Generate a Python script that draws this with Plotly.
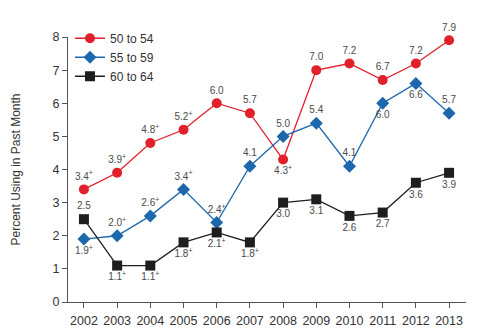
import plotly.graph_objects as go

years = [2002, 2003, 2004, 2005, 2006, 2007, 2008, 2009, 2010, 2011, 2012, 2013]

age_50_54 = [3.4, 3.9, 4.8, 5.2, 6.0, 5.7, 4.3, 7.0, 7.2, 6.7, 7.2, 7.9]
age_55_59 = [1.9, 2.0, 2.6, 3.4, 2.4, 4.1, 5.0, 5.4, 4.1, 6.0, 6.6, 5.7]
age_60_64 = [2.5, 1.1, 1.1, 1.8, 2.1, 1.8, 3.0, 3.1, 2.6, 2.7, 3.6, 3.9]

# "+" marks a difference from the 2013 estimate
sig_50_54 = [1, 1, 1, 1, 0, 0, 1, 0, 0, 0, 0, 0]
sig_55_59 = [1, 1, 1, 1, 1, 0, 0, 0, 0, 0, 0, 0]
sig_60_64 = [0, 1, 1, 1, 1, 1, 0, 0, 0, 0, 0, 0]

T, B = "top center", "bottom center"
pos_50_54 = [T, T, T, T, T, T, B, T, T, T, T, T]
pos_55_59 = [B, T, T, T, T, T, T, T, T, B, B, T]
pos_60_64 = [T, B, B, B, B, B, B, B, B, B, B, B]


def labels(vals, sig):
    return [f"{v:.1f}<sup>+</sup>" if s else f"{v:.1f}" for v, s in zip(vals, sig)]


series = [
    ("50 to 54", age_50_54, sig_50_54, pos_50_54, "#e0202a", "circle", 10),
    ("55 to 59", age_55_59, sig_55_59, pos_55_59, "#1d67ad", "diamond", 10),
    ("60 to 64", age_60_64, sig_60_64, pos_60_64, "#1e1e1e", "square", 10),
]

fig = go.Figure()
for name, vals, sig, pos, color, symbol, size in series:
    fig.add_trace(go.Scatter(
        x=years, y=vals, name=name,
        mode="lines+markers+text",
        line=dict(color=color, width=1.3),
        marker=dict(color=color, symbol=symbol, size=size),
        text=labels(vals, sig),
        textposition=pos,
        textfont=dict(size=10, color="#4a4a4a", family="Liberation Sans, Arial"),
        cliponaxis=False,
    ))

fig.update_layout(
    width=500, height=334,
    margin=dict(l=68, r=34, t=37, b=32),
    paper_bgcolor="white", plot_bgcolor="white",
    font=dict(family="Liberation Sans, Arial", size=12, color="#333333"),
    showlegend=True,
    legend=dict(x=0.005, y=1.05, xanchor="left", yanchor="top",
                bgcolor="rgba(0,0,0,0)", font=dict(size=12, color="#333333"),
                itemwidth=30, tracegroupgap=0),
    xaxis=dict(
        range=[2001.52, 2013.51], tickmode="array", tickvals=years,
        ticktext=[str(y) for y in years], automargin=False,
        showgrid=False, zeroline=False, showline=True, linecolor="#555555",
        linewidth=1.2, ticks="outside", ticklen=5, tickcolor="#555555",
        tickfont=dict(size=12.5, color="#333333"), ticklabelstandoff=2,
    ),
    yaxis=dict(
        range=[0, 8], dtick=1, showgrid=False, zeroline=False, automargin=False,
        showline=True, linecolor="#555555", linewidth=1.2,
        ticks="outside", ticklen=5, tickcolor="#555555",
        tickfont=dict(size=12.5, color="#333333"),
        title=dict(text="Percent Using in Past Month", font=dict(size=12, color="#333333"),
                   standoff=29),
    ),
)

fig.write_html("out.html")
